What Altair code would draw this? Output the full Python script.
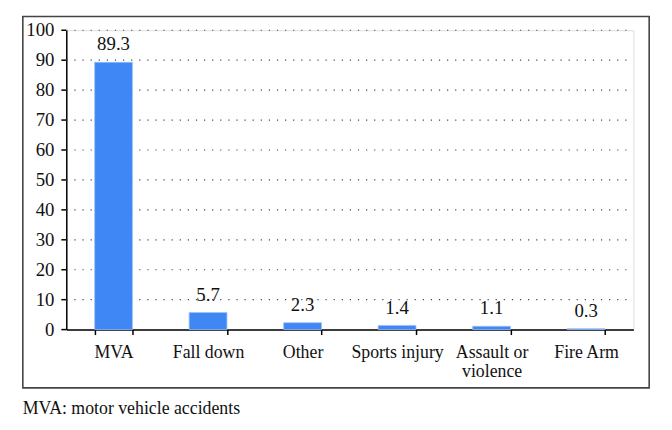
import altair as alt
import pandas as pd

categories = ["MVA", "Fall down", "Other", "Sports injury", "Assault or violence", "Fire Arm"]
values = [89.3, 5.7, 2.3, 1.4, 1.1, 0.3]
y_ticks = [0, 10, 20, 30, 40, 50, 60, 70, 80, 90, 100]
footnote = "MVA: motor vehicle accidents"

df = pd.DataFrame({"cat": categories, "val": values})
ticks_df = pd.DataFrame({"v": y_ticks, "lab": [str(t) for t in y_ticks]})
grid_df = ticks_df[ticks_df["v"] > 0]
FONT = "Liberation Serif"
FS = 19

yscale = alt.Scale(domain=[0, 100], nice=False)

x_enc = alt.X("cat:N", sort=categories, title=None,
              scale=alt.Scale(paddingInner=0.6, paddingOuter=0.3),
              axis=alt.Axis(labelAngle=0, labelFont=FONT, labelFontSize=18, labelColor="#111",
                            labelPadding=9, labelLineHeight=19, labelOverlap=False,
                            labelExpr="datum.label == 'Assault or violence' ? ['Assault or', 'violence'] : datum.label",
                            tickBand="extent", tickSize=5, tickColor="#000", tickWidth=1.5,
                            domainColor="#000", domainWidth=1.5, grid=False))
y_enc = alt.Y("val:Q", title=None, scale=yscale,
              axis=alt.Axis(labels=False, ticks=False, grid=False,
                            domainColor="#000", domainWidth=1.5))

grid = alt.Chart(grid_df).mark_rule(color="#444", strokeDash=[1.2, 7], strokeWidth=1.2).encode(
    y=alt.Y("v:Q", scale=yscale), x=alt.value(0), x2=alt.value(574))
yticks = alt.Chart(ticks_df).mark_rule(color="#000", strokeWidth=1.5).encode(
    y=alt.Y("v:Q", scale=yscale), x=alt.value(-5), x2=alt.value(0))
ylabels = alt.Chart(ticks_df).mark_text(font=FONT, fontSize=FS, color="#111", align="right",
                                        baseline="middle").encode(
    y=alt.Y("v:Q", scale=yscale), x=alt.value(-12), text="lab:N")

bars = alt.Chart(df).mark_bar(color="#3F87F4", stroke="#9cc0f7", strokeWidth=0.8).encode(x=x_enc, y=y_enc)
labels = alt.Chart(df).mark_text(font=FONT, fontSize=FS, color="#111", dy=-12, baseline="alphabetic").encode(
    x=x_enc, y=y_enc, text=alt.Text("val:Q", format=".1f"))

frame = alt.Chart(pd.DataFrame({"k": [0]})).mark_rect(fill=None, stroke="#444", strokeWidth=1.6, clip=False).encode(
    x=alt.value(-44), x2=alt.value(590), y=alt.value(-14), y2=alt.value(362))

note = alt.Chart(pd.DataFrame({"t": [footnote]})).mark_text(
    font=FONT, fontSize=18, color="#111", align="left", baseline="alphabetic", clip=False).encode(
    x=alt.value(-44), y=alt.value(388), text="t:N")

chart = alt.layer(grid, bars, labels, yticks, ylabels, frame, note).properties(
    width=574, height=303,
    padding={"left": 59, "top": 20, "right": 31, "bottom": 91},
    autosize=alt.AutoSizeParams(type="none"),
).configure_view(stroke=None).configure(background="white")

chart.save("out.html", embed_options={"renderer": "svg", "actions": False})
